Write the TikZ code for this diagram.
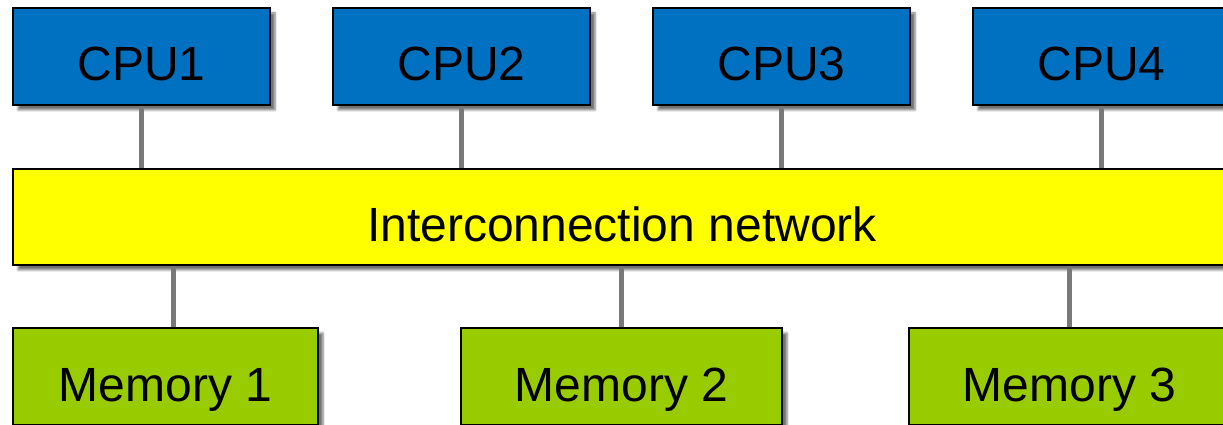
\documentclass[tikz,border=0pt]{standalone}
\usepackage{fontspec}
\setmainfont{Liberation Sans}
\usetikzlibrary{positioning,shadows.blur}
\definecolor{cpublue}{HTML}{0070C0}
\definecolor{netyellow}{HTML}{FFFF00}
\definecolor{memgreen}{HTML}{99CC00}
\tikzset{
    box/.style={draw=black, line width=1.6pt, inner sep=0pt,
        minimum height=97pt, text height=49pt, text depth=0pt,
        font=\fontsize{48}{56}\selectfont,
        blur shadow={shadow xshift=5pt, shadow yshift=-5pt,
            shadow blur steps=4, shadow blur extra rounding=0pt, shadow opacity=55}},
    cpu/.style={box, fill=cpublue, minimum width=257pt},
    mem/.style={box, fill=memgreen, minimum width=321pt},
    link/.style={draw=gray!95!black, line width=5pt},
}

\begin{document}
\begin{tikzpicture}[x=1pt, y=1pt]
    \useasboundingbox (0,0) rectangle (1223,424);

    % CPUs
    \foreach \i in {1,...,4}
        \node[cpu] (cpu\i) at ({141.5+320*(\i-1)}, 367.5) {CPU\i};

    % Rete
    \node[box, fill=netyellow, minimum width=1218pt, minimum height=96pt]
        (net) at (622, 207) {Interconnection network};

    % Memorie
    \node[mem, minimum width=305pt] (mem1) at (165.5, 47.5) {Memory 1};
    \node[mem] (mem2) at (621.5, 47.5) {Memory 2};
    \node[mem] (mem3) at (1069.5, 47.5) {Memory 3};

    % Collegamenti
    \foreach \i in {1,...,4}
        \draw[link] (cpu\i.south) -- (cpu\i.south |- net.north);
    \draw[link] ([xshift=8pt]mem1.north) -- ([xshift=8pt]mem1.north |- net.south);
    \draw[link] (mem2.north) -- (mem2.north |- net.south);
    \draw[link] (mem3.north) -- (mem3.north |- net.south);
\end{tikzpicture}
\end{document}
